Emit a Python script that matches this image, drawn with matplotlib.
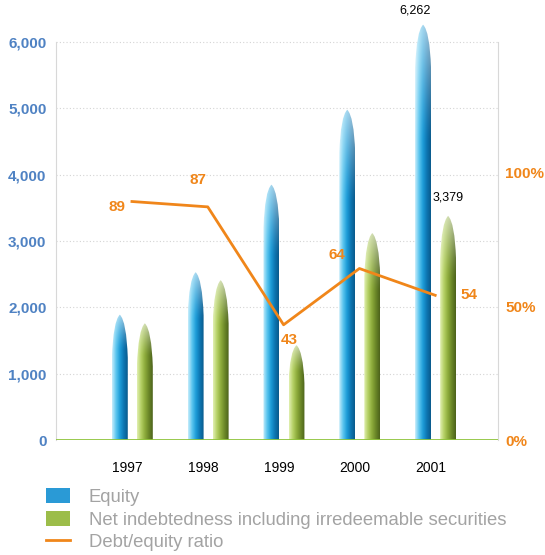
import numpy as np
import matplotlib
matplotlib.use('Agg')
import matplotlib.pyplot as plt
from matplotlib.path import Path
from matplotlib.patches import PathPatch, Patch
from matplotlib.lines import Line2D
from matplotlib.colors import LinearSegmentedColormap

# data
years = ['1997', '1998', '1999', '2000', '2001']
equity = [1890, 2530, 3850, 4980, 6262]
net_debt = [1760, 2410, 1430, 3120, 3379]
ratio = [89, 87, 43, 64, 54]
left_ticks = [0, 1000, 2000, 3000, 4000, 5000, 6000]
right_ticks = [0, 50, 100]
legend_labels = ['Equity', 'Net indebtedness including irredeemable securities',
                 'Debt/equity ratio']

BLUE_TXT = '#4f82c3'
ORANGE = '#f0861a'
GREEN_LINE = '#8fc43c'
GRAY_TXT = '#a3a3a3'

plt.rcParams['font.family'] = ['Liberation Sans', 'DejaVu Sans']

blue_cmap = LinearSegmentedColormap.from_list(
    'eq', ['#c4ecfb', '#5cc6ef', '#1d9cd8', '#0d76b2', '#0a5a8c'])
green_cmap = LinearSegmentedColormap.from_list(
    'nd', ['#e0efaf', '#b4d064', '#8dab3b', '#6a8628', '#4d631b'])


def bullet_bar(ax, bar, cmap, cap=650):
    """Fill a bar rectangle with a gradient clipped to a bullet shape"""
    x0 = bar.get_x()
    w = bar.get_width()
    h = bar.get_height()
    x1 = x0 + w
    xc = x0 + w / 2
    c = min(cap, h * 0.4)
    verts = [(x0, 0), (x0, h - c), (x0 + w * 0.08, h - c * 0.15), (xc, h),
             (x1 - w * 0.08, h - c * 0.15), (x1, h - c), (x1, 0), (x0, 0)]
    codes = [Path.MOVETO, Path.LINETO, Path.CURVE3, Path.CURVE3,
             Path.CURVE3, Path.CURVE3, Path.LINETO, Path.CLOSEPOLY]
    patch = PathPatch(Path(verts, codes), facecolor='none', edgecolor='none',
                      transform=ax.transData)
    ax.add_patch(patch)

    nx, ny = 40, 200
    row = cmap(np.linspace(0, 1, nx))[:, :3]
    img = np.tile(row, (ny, 1, 1))
    frac = np.linspace(0, 1, ny)[:, None, None]
    fade = np.clip((frac - 0.72) / 0.28, 0, 1) ** 1.3 * 0.6
    img = img * (1 - fade) + fade
    im = ax.imshow(img, extent=[x0, x1, 0, h], origin='lower', aspect='auto',
                   interpolation='bilinear', zorder=2)
    im.set_clip_path(patch)


fig = plt.figure(figsize=(5.45, 5.55), dpi=100)
ax = fig.add_axes([0.103, 0.2072, 0.811, 0.7648])

x = np.arange(len(years))
w = 0.21
eq_bars = ax.bar(x - 0.16, equity, w, color='none', edgecolor='none')
nd_bars = ax.bar(x + 0.17, net_debt, w, color='none', edgecolor='none')
for b in eq_bars:
    bullet_bar(ax, b, blue_cmap)
for b in nd_bars:
    bullet_bar(ax, b, green_cmap)

ax.set_xlim(-1.0, 4.83)
ax.set_ylim(0, 6400)

for t in left_ticks[1:]:
    ax.axhline(t, color='#d4d4d4', lw=0.8, linestyle=(0, (1, 2)), zorder=1)
ax.axhline(0, color=GREEN_LINE, lw=2, zorder=3)

for side in ['top', 'bottom']:
    ax.spines[side].set_visible(False)
for side in ['left', 'right']:
    ax.spines[side].set_color('#d8d8d8')
    ax.spines[side].set_linewidth(0.8)
    ax.spines[side].set_bounds(0, 6000)

ax.set_yticks(left_ticks)
ax.set_yticklabels([f'{t:,}' for t in left_ticks], color=BLUE_TXT,
                   fontweight='bold', fontsize=11)
ax.tick_params(axis='y', length=0, pad=7)
ax.set_xticks(x - 0.06)
ax.set_xticklabels(years, fontsize=10)
ax.tick_params(axis='x', length=0, pad=15)

ax.annotate(f'{equity[-1]:,}', (x[-1] - 0.16, equity[-1]), xytext=(-6, 6),
            textcoords='offset points', ha='center', va='bottom', fontsize=9,
            annotation_clip=False)
ax.annotate(f'{net_debt[-1]:,}', (x[-1] + 0.17, net_debt[-1]), xytext=(0, 9),
            textcoords='offset points', ha='center', va='bottom', fontsize=9)

# debt/equity ratio on the right axis
ax2 = ax.twinx()
ax2.set_ylim(0, 158.4)
for s in ax2.spines.values():
    s.set_visible(False)
ax2.plot(x, ratio, color=ORANGE, lw=2, zorder=5)
ax2.set_yticks(right_ticks)
ax2.set_yticklabels([f'{t}%' for t in right_ticks], color=ORANGE,
                    fontweight='bold', fontsize=11)
ax2.tick_params(axis='y', length=0, pad=5)

offsets = [(-5, -4, 'right', 'center'), (-7, 14, 'center', 'bottom'),
           (4, -6, 'center', 'top'), (-16, 5, 'center', 'bottom'),
           (18, 0, 'left', 'center')]
for xi, r, (dx, dy, ha, va) in zip(x, ratio, offsets):
    ax2.annotate(str(r), (xi, r), xytext=(dx, dy), textcoords='offset points',
                 ha=ha, va=va, color=ORANGE, fontweight='bold', fontsize=11)

handles = [Patch(facecolor='#2a9ad6', edgecolor='none'),
           Patch(facecolor='#9cbd4a', edgecolor='none'),
           Line2D([0], [0], color=ORANGE, lw=2)]
leg = fig.legend(handles, legend_labels, loc='upper left',
                 bbox_to_anchor=(0.085, 0.121), frameon=False, fontsize=13.3,
                 handlelength=1.3, handleheight=0.9, handletextpad=1.0,
                 labelspacing=0.25, borderpad=0, borderaxespad=0)
for t in leg.get_texts():
    t.set_color(GRAY_TXT)

fig.savefig('out.png', dpi=100)
